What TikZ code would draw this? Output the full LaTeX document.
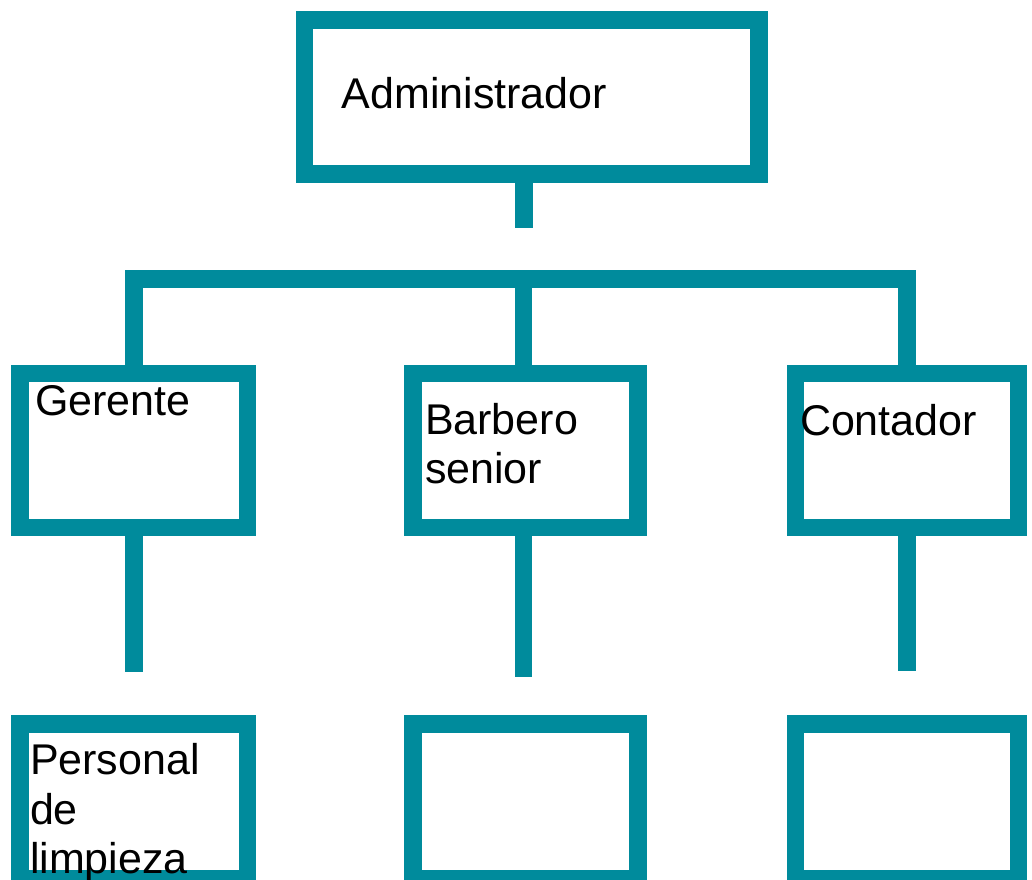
\documentclass[tikz,border=0pt]{standalone}
\usepackage{fontspec}
\setmainfont{Liberation Sans}
\definecolor{teal}{RGB}{0,139,156}
\tikzset{
  orgbox/.style={draw=teal, line width=17.5pt, rectangle, inner sep=0pt, outer sep=0pt},
  link/.style={draw=teal, line width=17.5pt, line join=miter, line cap=butt},
  lbl/.style={anchor=base west, inner sep=0pt, outer sep=0pt, align=left,
    font=\fontsize{43pt}{49.3pt}\selectfont, text=black}
}
\begin{document}
\begin{tikzpicture}[x=1pt,y=-1pt]
\useasboundingbox (0,0) rectangle (1032,879);
\clip (0,0) rectangle (1032,879);
% boxes
\node[orgbox, minimum width=454.7pt, minimum height=154.4pt] (adm) at (531.65,97) {};
\node[orgbox, minimum width=227.3pt, minimum height=154.2pt] (ger) at (133.85,450.4) {};
\node[orgbox, minimum width=225pt, minimum height=154.2pt] (bar) at (525.5,450.4) {};
\node[orgbox, minimum width=223pt, minimum height=154.2pt] (con) at (906.95,450.4) {};
\node[orgbox, minimum width=227.3pt, minimum height=154.7pt] (per) at (133.85,801.4) {};
\node[orgbox, minimum width=225pt, minimum height=154.7pt] (emp1) at (525.5,801.4) {};
\node[orgbox, minimum width=223pt, minimum height=154.7pt] (emp2) at (906.95,801.4) {};
% coordinates
\coordinate (stub) at (524,227.7);
\coordinate (hub) at (523.5,279);
\coordinate (gend) at (133.85,671.7);
\coordinate (bend) at (523.5,677);
\coordinate (cend) at (906.95,671.3);
% connectors
\draw[link] (stub |- adm.south) -- (stub);
\draw[link] (ger.north) |- (hub) -| (con.north);
\draw[link] (hub) -- (hub |- bar.north);
\draw[link] (ger.south) -- (gend);
\draw[link] (bend |- bar.south) -- (bend);
\draw[link] (con.south) -- (cend);
% labels (base anchor = baseline of last line)
\node[lbl] (tadm) at (341.7,108.3) {Administrador};
\node[lbl] (tger) at (35,415) {Gerente};
\node[lbl] (tbar) at (425,483.3) {Barbero\\senior};
\node[lbl] (tcon) at (800,435.7) {Contador};
\node[lbl] (tper) at (30,873.3) {Personal\\de\\limpieza};
\end{tikzpicture}
\end{document}
